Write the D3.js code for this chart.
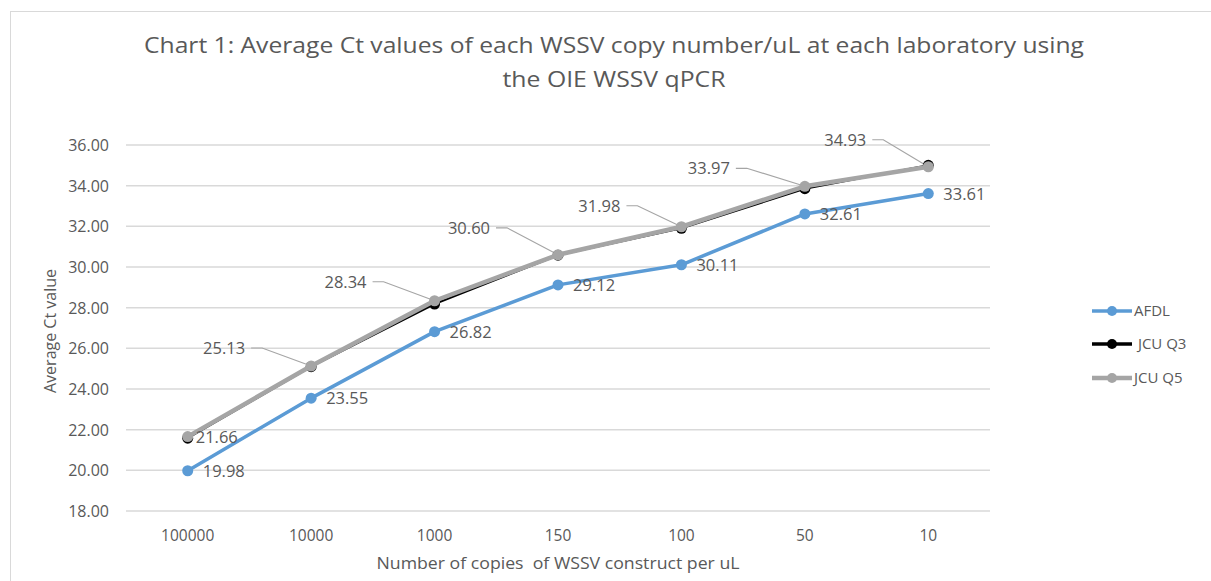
<!DOCTYPE html>
<html>
<head>
<meta charset="utf-8">
<script src="https://cdn.jsdelivr.net/npm/d3@7"></script>
<style>
  body { margin: 0; background: #fff; }
  text { font-family: "Open Sans", sans-serif; fill: #595959; }
</style>
</head>
<body>
<div id="chart"></div>
<script>
// data
const categories = ["100000", "10000", "1000", "150", "100", "50", "10"];
const afdl = [19.98, 23.55, 26.82, 29.12, 30.11, 32.61, 33.61];
const jcuQ3 = [21.58, 25.10, 28.18, 30.58, 31.90, 33.85, 35.00];
const jcuQ5 = [21.66, 25.13, 28.34, 30.60, 31.98, 33.97, 34.93];
const yTicks = [18, 20, 22, 24, 26, 28, 30, 32, 34, 36];

const width = 1211, height = 581;
const margin = { top: 145, bottom: 70, left: 126, right: 221 };

const svg = d3.select("#chart").append("svg")
  .attr("width", width)
  .attr("height", height);

// outer chart border
svg.append("rect")
  .attr("x", 10.5).attr("y", 11.5)
  .attr("width", width).attr("height", height)
  .attr("fill", "none").attr("stroke", "#d9d9d9");

const x = d3.scaleBand()
  .domain(categories)
  .range([margin.left, width - margin.right]);

const y = d3.scaleLinear()
  .domain([18, 36])
  .range([511, margin.top]);

const cx = c => x(c) + x.bandwidth() / 2;

// title
const title = svg.append("g").attr("font-size", 22);
title.append("text")
  .attr("x", 614).attr("y", 53)
  .attr("text-anchor", "middle")
  .attr("textLength", 940).attr("lengthAdjust", "spacingAndGlyphs")
  .text("Chart 1: Average Ct values of each WSSV copy number/uL at each laboratory using");
title.append("text")
  .attr("x", 614).attr("y", 87)
  .attr("text-anchor", "middle")
  .attr("textLength", 223).attr("lengthAdjust", "spacingAndGlyphs")
  .text("the OIE WSSV qPCR");

// grid
svg.append("g")
  .selectAll("line")
  .data(yTicks)
  .join("line")
  .attr("x1", margin.left).attr("x2", width - margin.right)
  .attr("y1", d => y(d)).attr("y2", d => y(d))
  .attr("stroke", "#d9d9d9").attr("stroke-width", 1.5);

// y tick labels
svg.append("g")
  .selectAll("text")
  .data(yTicks)
  .join("text")
  .attr("x", 109).attr("y", d => y(d) + 6)
  .attr("text-anchor", "end")
  .attr("font-size", 16)
  .text(d => d.toFixed(2));

// x tick labels
svg.append("g")
  .selectAll("text")
  .data(categories)
  .join("text")
  .attr("x", d => cx(d)).attr("y", 541)
  .attr("text-anchor", "middle")
  .attr("font-size", 15.5)
  .text(d => d);

// axis titles
svg.append("text")
  .attr("x", 558).attr("y", 569)
  .attr("text-anchor", "middle")
  .attr("font-size", 16)
  .attr("textLength", 363).attr("lengthAdjust", "spacingAndGlyphs")
  .attr("xml:space", "preserve")
  .text("Number of copies  of WSSV construct per uL");

svg.append("text")
  .attr("transform", "translate(56,331) rotate(-90)")
  .attr("text-anchor", "middle")
  .attr("font-size", 16)
  .text("Average Ct value");

const line = d3.line()
  .x((d, i) => cx(categories[i]))
  .y(d => y(d));

const series = [
  { name: "AFDL", values: afdl, color: "#5b9bd5", w: 3.5 },
  { name: " JCU Q3", values: jcuQ3, color: "#000000", w: 2 },
  { name: "JCU Q5", values: jcuQ5, color: "#a5a5a5", w: 4.5 }
];

// JCU Q5 label placement, px relative to point (end anchored except first)
const q5Labels = [
  { dx: 8, dy: 0, anchor: "start", lead: false },
  { dx: -66, dy: -18, anchor: "end", lead: true },
  { dx: -68, dy: -19, anchor: "end", lead: true },
  { dx: -68, dy: -27, anchor: "end", lead: true },
  { dx: -61, dy: -21, anchor: "end", lead: true },
  { dx: -75, dy: -18, anchor: "end", lead: true },
  { dx: -62, dy: -27, anchor: "end", lead: true }
];

// leader lines for JCU Q5
svg.append("g")
  .selectAll("path")
  .data(jcuQ5.map((v, i) => ({ v, i })).filter(d => q5Labels[d.i].lead))
  .join("path")
  .attr("fill", "none")
  .attr("stroke", "#a5a5a5")
  .attr("stroke-width", 1.2)
  .attr("d", d => {
    const px = cx(categories[d.i]), py = y(d.v);
    const o = q5Labels[d.i];
    const sx = px + o.dx + 6, sy = py + o.dy;
    return `M${sx},${sy}H${sx + 11}L${px},${py}`;
  });

series.forEach(s => {
  const g = svg.append("g");
  g.append("path")
    .datum(s.values)
    .attr("fill", "none")
    .attr("stroke", s.color)
    .attr("stroke-width", s.w)
    .attr("stroke-linejoin", "round")
    .attr("d", line);
  g.selectAll("circle")
    .data(s.values)
    .join("circle")
    .attr("cx", (d, i) => cx(categories[i]))
    .attr("cy", d => y(d))
    .attr("r", 5.5)
    .attr("fill", s.color);
});

// data labels
svg.append("g")
  .selectAll("text")
  .data(afdl)
  .join("text")
  .attr("x", (d, i) => cx(categories[i]) + 15)
  .attr("y", d => y(d) + 6)
  .attr("font-size", 16.5)
  .text(d => d.toFixed(2));

svg.append("g")
  .selectAll("text")
  .data(jcuQ5)
  .join("text")
  .attr("x", (d, i) => cx(categories[i]) + q5Labels[i].dx)
  .attr("y", (d, i) => y(d) + q5Labels[i].dy + 6)
  .attr("text-anchor", (d, i) => q5Labels[i].anchor)
  .attr("font-size", 16.5)
  .text(d => d.toFixed(2));

// legend
const legend = svg.append("g")
  .selectAll("g")
  .data(series)
  .join("g")
  .attr("transform", (d, i) => `translate(1092,${[311, 344, 378][i]})`);
legend.append("line")
  .attr("x1", 0).attr("x2", 40)
  .attr("stroke", d => d.color)
  .attr("stroke-width", d => Math.max(d.w, 3.5));
legend.append("circle")
  .attr("cx", 20).attr("r", 5)
  .attr("fill", d => d.color);
legend.append("text")
  .attr("x", 42).attr("y", 5)
  .attr("font-size", 15)
  .attr("xml:space", "preserve")
  .text(d => d.name);
</script>
</body>
</html>
